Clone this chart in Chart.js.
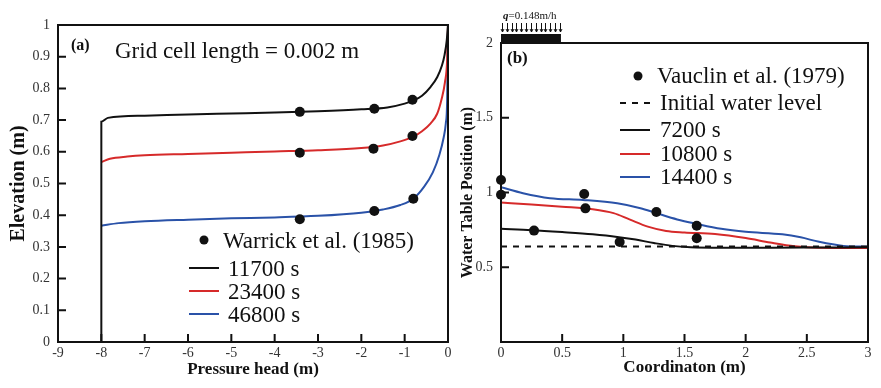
<!DOCTYPE html>
<html lang="en">
<head>
<meta charset="UTF-8">
<title>Pressure head and water table profiles</title>
<script src="https://cdn.jsdelivr.net/npm/chart.js"></script>
<style>
  body { margin: 0; background: #fff; }
  .wrap { position: relative; width: 881px; height: 388px; }
  #left { position: absolute; left: 0; top: 0; }
  #right { position: absolute; left: 455px; top: 0; }
</style>
</head>
<body>
<div class="wrap">
  <canvas id="left" width="455" height="388"></canvas>
  <canvas id="right" width="426" height="388"></canvas>
</div>
<script>
// ---- panel (a): pressure head profiles ----
const headTicks = [-9, -8, -7, -6, -5, -4, -3, -2, -1, 0];
const head11700 = [-8, -8, -7.85, -7, -6, -5, -4, -3, -2, -1.4, -1, -0.8, -0.6, -0.4, -0.25, -0.14, -0.08, -0.03, 0];
const elev11700 = [0, 0.695, 0.707, 0.714, 0.718, 0.721, 0.724, 0.728, 0.734, 0.74, 0.752, 0.762, 0.777, 0.805, 0.835, 0.872, 0.905, 0.95, 1.0];
const head23400 = [-8, -7.8, -7.4, -7, -6, -5, -4, -3, -2, -1.5, -1.1, -0.8, -0.6, -0.4, -0.25, -0.15, -0.07, -0.02, 0];
const elev23400 = [0.568, 0.578, 0.585, 0.589, 0.593, 0.597, 0.601, 0.605, 0.612, 0.62, 0.633, 0.648, 0.665, 0.69, 0.72, 0.765, 0.82, 0.89, 1.0];
const head46800 = [-8, -7.6, -7, -6, -5, -4, -3, -2, -1.5, -1.1, -0.8, -0.55, -0.35, -0.2, -0.1, -0.05, -0.02, 0];
const elev46800 = [0.367, 0.375, 0.381, 0.386, 0.39, 0.393, 0.398, 0.408, 0.418, 0.432, 0.452, 0.49, 0.535, 0.59, 0.645, 0.69, 0.76, 1.0];
const warrickHead = [-3.42, -1.7, -0.82, -3.42, -1.72, -0.82, -3.42, -1.7, -0.8];
const warrickElev = [0.726, 0.736, 0.764, 0.597, 0.61, 0.65, 0.387, 0.413, 0.452];

// ---- panel (b): water table position ----
const initX = [0, 3];
const initY = [0.638, 0.638];
const coord7200 = [0, 0.25, 0.5, 0.75, 0.95, 1.1, 1.25, 1.4, 1.55, 1.8, 2.2, 2.6, 3];
const level7200 = [0.757, 0.748, 0.735, 0.72, 0.703, 0.685, 0.662, 0.643, 0.634, 0.631, 0.631, 0.632, 0.633];
const coord10800 = [0, 0.25, 0.5, 0.75, 0.92, 1.05, 1.2, 1.35, 1.5, 1.75, 2, 2.2, 2.4, 2.6, 3];
const level10800 = [0.933, 0.92, 0.905, 0.888, 0.862, 0.82, 0.772, 0.743, 0.733, 0.722, 0.695, 0.665, 0.64, 0.63, 0.628];
const coord14400 = [0, 0.18, 0.4, 0.67, 0.95, 1.14, 1.27, 1.44, 1.6, 1.8, 2.0, 2.3, 2.45, 2.6, 2.8, 3];
const level14400 = [1.035, 0.995, 0.962, 0.95, 0.928, 0.895, 0.862, 0.82, 0.79, 0.757, 0.737, 0.72, 0.7, 0.67, 0.643, 0.637];
const vauclinX = [0, 0, 0.68, 0.69, 0.27, 0.97, 1.27, 1.6, 1.6];
const vauclinY = [1.084, 0.985, 0.99, 0.894, 0.745, 0.669, 0.87, 0.778, 0.694];
const rechargeEnd = 0.49;   // length of the recharge zone (m)

const SERIF = '"Liberation Serif", "Times New Roman", serif';
const BLACK = '#111', RED = '#d62a2a', BLUE = '#2a52a8';
Chart.defaults.font.family = SERIF;
Chart.defaults.color = '#333';

const xy = (xs, ys) => xs.map((x, i) => ({ x: x, y: ys[i] }));
const plain = v => String(+Number(v).toFixed(3));

function pointSet(label, data) {
  return { label, data, showLine: false, pointRadius: 5, pointBackgroundColor: BLACK,
           pointBorderWidth: 0, clip: false };
}
function lineSet(label, data, color, dash) {
  return { label, data, borderColor: color, borderWidth: 2, borderDash: dash || [],
           pointRadius: 0, cubicInterpolationMode: 'monotone', fill: false };
}

// frame, inward ticks, notes and legend
const framePlugin = {
  id: 'frame',
  afterDatasetsDraw(chart, args, opts) {
    const ctx = chart.ctx, a = chart.chartArea;
    const xs = chart.scales.x, ys = chart.scales.y;
    ctx.save();
    ctx.strokeStyle = BLACK;
    ctx.lineWidth = 2;
    ctx.strokeRect(a.left, a.top, a.right - a.left, a.bottom - a.top);
    ctx.beginPath();
    xs.ticks.forEach(t => {
      if (t.value <= xs.min || t.value >= xs.max) return;
      const px = xs.getPixelForValue(t.value);
      ctx.moveTo(px, a.bottom); ctx.lineTo(px, a.bottom - 8);
    });
    ys.ticks.forEach(t => {
      if (t.value <= ys.min || t.value >= ys.max) return;
      const py = ys.getPixelForValue(t.value);
      ctx.moveTo(a.left, py); ctx.lineTo(a.left + 8, py);
    });
    ctx.stroke();

    (opts.notes || []).forEach(n => {
      ctx.font = n.font;
      ctx.fillStyle = BLACK;
      ctx.textBaseline = 'alphabetic';
      ctx.fillText(n.text, n.x, n.y);
    });

    const lg = opts.legend;
    if (lg) {
      ctx.font = lg.font;
      chart.data.datasets.forEach((ds, i) => {
        const base = lg.rows[i];
        const my = base - lg.lift;
        if (ds.showLine === false) {
          ctx.fillStyle = BLACK;
          ctx.beginPath();
          ctx.arc(lg.markerX, my, 4.5, 0, Math.PI * 2);
          ctx.fill();
          ctx.fillText(ds.label, lg.pointTextX, base);
        } else {
          ctx.strokeStyle = ds.borderColor;
          ctx.lineWidth = 2;
          ctx.setLineDash(ds.borderDash || []);
          ctx.beginPath();
          ctx.moveTo(lg.lineX0, my); ctx.lineTo(lg.lineX1, my);
          ctx.stroke();
          ctx.setLineDash([]);
          ctx.fillStyle = BLACK;
          ctx.fillText(ds.label, lg.textX, base);
        }
      });
    }

    if (opts.recharge) {
      const x0 = xs.getPixelForValue(0), x1 = xs.getPixelForValue(opts.recharge);
      ctx.fillStyle = BLACK;
      ctx.strokeStyle = BLACK;
      ctx.fillRect(x0, a.top - 9, x1 - x0, 9);
      ctx.lineWidth = 1;
      const n = 13;
      for (let i = 0; i < n; i++) {
        const px = Math.round(x0 + 1 + i * (x1 - x0 - 2) / (n - 1)) + 0.5;
        ctx.beginPath();
        ctx.moveTo(px, a.top - 20); ctx.lineTo(px, a.top - 11);
        ctx.moveTo(px - 1.5, a.top - 14); ctx.lineTo(px, a.top - 11); ctx.lineTo(px + 1.5, a.top - 14);
        ctx.stroke();
      }
      ctx.font = 'italic bold 11px ' + SERIF;
      ctx.fillText('q', x0 + 2, a.top - 24);
      const qw = ctx.measureText('q').width;
      ctx.font = '11px ' + SERIF;
      ctx.fillText('=0.148m/h', x0 + 2 + qw, a.top - 24);
    }
    ctx.restore();
  }
};

function axes(cfg) {
  return {
    x: {
      type: 'linear', min: cfg.xMin, max: cfg.xMax,
      afterFit: s => { s.height = 46; },
      afterBuildTicks: cfg.xTicks ? (s => { s.ticks = cfg.xTicks.map(v => ({ value: v })); }) : undefined,
      ticks: { stepSize: cfg.xStep, padding: 3, font: { size: 14 }, color: '#333', maxRotation: 0, autoSkip: false,
               callback: plain },
      grid: { display: false, drawTicks: false },
      border: { display: false },
      title: { display: true, text: cfg.xTitle, font: { size: 17, weight: 'bold' }, color: BLACK, padding: cfg.xTitlePad }
    },
    y: {
      type: 'linear', min: cfg.yMin, max: cfg.yMax,
      afterFit: s => { s.width = cfg.yWidth; },
      ticks: { stepSize: cfg.yStep, padding: 8, font: { size: 14 }, color: '#333', autoSkip: false,
               callback: cfg.yLabel || plain },
      grid: { display: false, drawTicks: false },
      border: { display: false },
      title: { display: true, text: cfg.yTitle, font: { size: cfg.yTitleSize, weight: 'bold' }, color: BLACK, padding: cfg.yTitlePad }
    }
  };
}

new Chart(document.getElementById('left'), {
  type: 'line',
  data: {
    datasets: [
      pointSet('Warrick et al. (1985)', xy(warrickHead, warrickElev)),
      lineSet('11700 s', xy(head11700, elev11700), BLACK),
      lineSet('23400 s', xy(head23400, elev23400), RED),
      lineSet('46800 s', xy(head46800, elev46800), BLUE)
    ]
  },
  options: {
    responsive: false, devicePixelRatio: 1, animation: false,
    layout: { padding: { top: 25, right: 7, left: 0, bottom: 0 } },
    scales: axes({ xMin: -9, xMax: 0, xTicks: headTicks, yMin: 0, yMax: 1, yStep: 0.1, yWidth: 58,
                   xTitle: 'Pressure head (m)', xTitlePad: 8, yTitle: 'Elevation (m)', yTitleSize: 20, yTitlePad: 7 }),
    plugins: {
      legend: { display: false }, tooltip: { enabled: false },
      frame: {
        notes: [
          { text: '(a)', x: 71, y: 50, font: 'bold 16px ' + SERIF },
          { text: 'Grid cell length = 0.002 m', x: 115, y: 58, font: '23px ' + SERIF }
        ],
        legend: { font: '23px ' + SERIF, rows: [248, 276, 299, 322], lift: 8,
                  markerX: 204, pointTextX: 223, lineX0: 189, lineX1: 219, textX: 228 }
      }
    }
  },
  plugins: [framePlugin]
});

new Chart(document.getElementById('right'), {
  type: 'line',
  data: {
    datasets: [
      pointSet('Vauclin et al. (1979)', xy(vauclinX, vauclinY)),
      lineSet('Initial water level', xy(initX, initY), BLACK, [6, 6]),
      lineSet('7200 s', xy(coord7200, level7200), BLACK),
      lineSet('10800 s', xy(coord10800, level10800), RED),
      lineSet('14400 s', xy(coord14400, level14400), BLUE)
    ]
  },
  options: {
    responsive: false, devicePixelRatio: 1, animation: false,
    layout: { padding: { top: 43, right: 13, left: 0, bottom: 0 } },
    scales: axes({ xMin: 0, xMax: 3, xStep: 0.5, yMin: 0, yMax: 2, yStep: 0.5, yWidth: 46,
                   yLabel: v => (v === 0 ? '' : plain(v)),
                   xTitle: 'Coordinaton (m)', xTitlePad: 10, yTitle: 'Water Table Position (m)', yTitleSize: 16, yTitlePad: 3 }),
    plugins: {
      legend: { display: false }, tooltip: { enabled: false },
      frame: {
        notes: [
          { text: '(b)', x: 52, y: 63, font: 'bold 17px ' + SERIF }
        ],
        legend: { font: '23px ' + SERIF, rows: [83, 110, 137, 161, 184], lift: 7,
                  markerX: 183, pointTextX: 202, lineX0: 165, lineX1: 195, textX: 205 },
        recharge: rechargeEnd
      }
    }
  },
  plugins: [framePlugin]
});
</script>
</body>
</html>
